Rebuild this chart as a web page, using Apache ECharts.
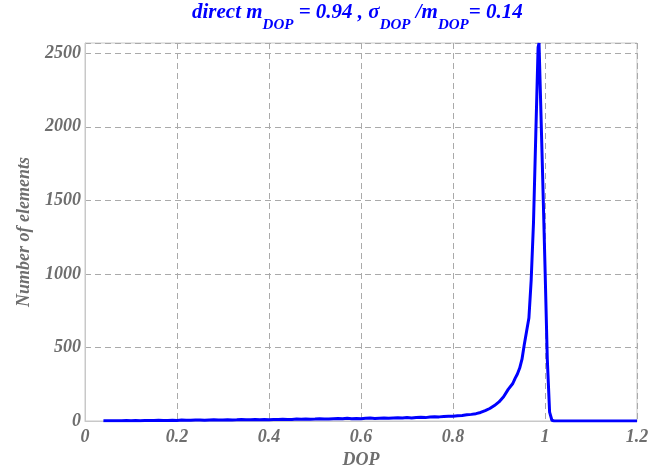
<!DOCTYPE html>
<html>
<head>
<meta charset="utf-8">
<script src="https://cdn.jsdelivr.net/npm/echarts@6/dist/echarts.min.js"></script>
<style>html,body{margin:0;padding:0;background:#fff;}#c{width:649px;height:466px;}</style>
</head>
<body>
<div id="c"></div>
<script>
var dop = [0.04,0.05,0.06,0.07,0.08,0.09,0.10,0.11,0.12,0.13,0.14,0.15,0.16,0.17,0.18,0.19,
  0.20,0.21,0.22,0.23,0.24,0.25,0.26,0.27,0.28,0.29,0.30,0.31,0.32,0.33,0.34,0.35,0.36,0.37,0.38,0.39,
  0.40,0.41,0.42,0.43,0.44,0.45,0.46,0.47,0.48,0.49,0.50,0.51,0.52,0.53,0.54,0.55,0.56,0.57,0.58,0.59,
  0.60,0.61,0.62,0.63,0.64,0.65,0.66,0.67,0.68,0.69,0.70,0.71,0.72,0.73,0.74,0.75,0.76,0.77,0.78,0.79,
  0.80,0.81,0.82,0.83,0.84,0.85,0.86,0.87,0.88,0.89,0.90,0.91,0.92,0.93,0.935,0.94,0.945,0.95,0.955,
  0.96,0.965,0.97,0.975,0.98,0.985,0.987,0.99,0.995,1.0,1.005,1.01,1.015,1.02,1.05,1.1,1.15,1.2];
var counts = [2,1,2,2,1,3,2,3,2,4,3,3,5,3,4,5,
  4,6,5,5,7,6,5,7,8,6,7,9,7,8,10,8,9,11,9,10,
  9,11,10,12,11,10,13,12,14,12,13,15,13,14,16,17,15,18,16,17,
  15,18,20,17,19,21,18,20,22,20,23,21,24,26,23,27,29,28,31,33,
  32,36,38,42,45,50,58,70,85,105,130,165,215,255,290,320,360,420,520,
  610,700,960,1350,1950,2540,2570,2230,1650,1050,420,60,5,0,0,0,0,0];
var xTicks = [0,0.2,0.4,0.6,0.8,1,1.2];
var yTicks = [0,500,1000,1500,2000,2500];

var labelFont = {fontFamily:'Liberation Serif', fontWeight:'bold', fontStyle:'italic', fontSize:18, color:'#6e6e6e'};
var chart = echarts.init(document.getElementById('c'));
chart.setOption({
  animation:false,
  backgroundColor:'#fff',
  title:{
    left:192, top:2, padding:0,
    text:'{b|direct m}{s|DOP}{b| = 0.94 , σ}{s|DOP}{b| /m}{s|DOP}{b|= 0.14}',
    textStyle:{
      rich:{
        b:{fontFamily:'Liberation Serif', fontWeight:'bold', fontStyle:'italic', fontSize:21, color:'#0000ff', verticalAlign:'bottom', padding:[0,0,10,0]},
        s:{fontFamily:'Liberation Serif', fontWeight:'bold', fontStyle:'italic', fontSize:15, color:'#0000ff', verticalAlign:'bottom'}
      }
    }
  },
  grid:{left:85, right:12, top:43, bottom:45, show:true, borderColor:'#c8c8c8', borderWidth:1, outerBoundsMode:'none', containLabel:false},
  xAxis:{
    type:'value', min:xTicks[0], max:xTicks[xTicks.length-1], interval:0.2,
    name:'DOP', nameLocation:'middle', nameGap:23,
    nameTextStyle:labelFont,
    axisLine:{lineStyle:{color:'#c8c8c8'}},
    axisTick:{show:false},
    axisLabel:Object.assign({margin:7, formatter:function(v){return String(+v.toFixed(1));}}, labelFont),
    splitLine:{show:true, lineStyle:{color:'#aaaaaa', type:[6,4], width:1}}
  },
  yAxis:{
    type:'value', min:yTicks[0], max:2570, interval:500,
    name:'Number of elements', nameLocation:'middle', nameGap:52,
    nameTextStyle:labelFont,
    axisLine:{show:true, lineStyle:{color:'#c8c8c8'}},
    axisTick:{show:false},
    axisLabel:Object.assign({margin:4, showMaxLabel:false, formatter:function(v){return String(v);}}, labelFont),
    splitLine:{show:true, lineStyle:{color:'#aaaaaa', type:[6,4], width:1}}
  },
  series:[{
    type:'line',
    data:dop.map(function(d,i){return [d, counts[i]];}),
    showSymbol:false,
    lineStyle:{color:'#0000ff', width:3},
    itemStyle:{color:'#0000ff'}
  }]
});
</script>
</body>
</html>
